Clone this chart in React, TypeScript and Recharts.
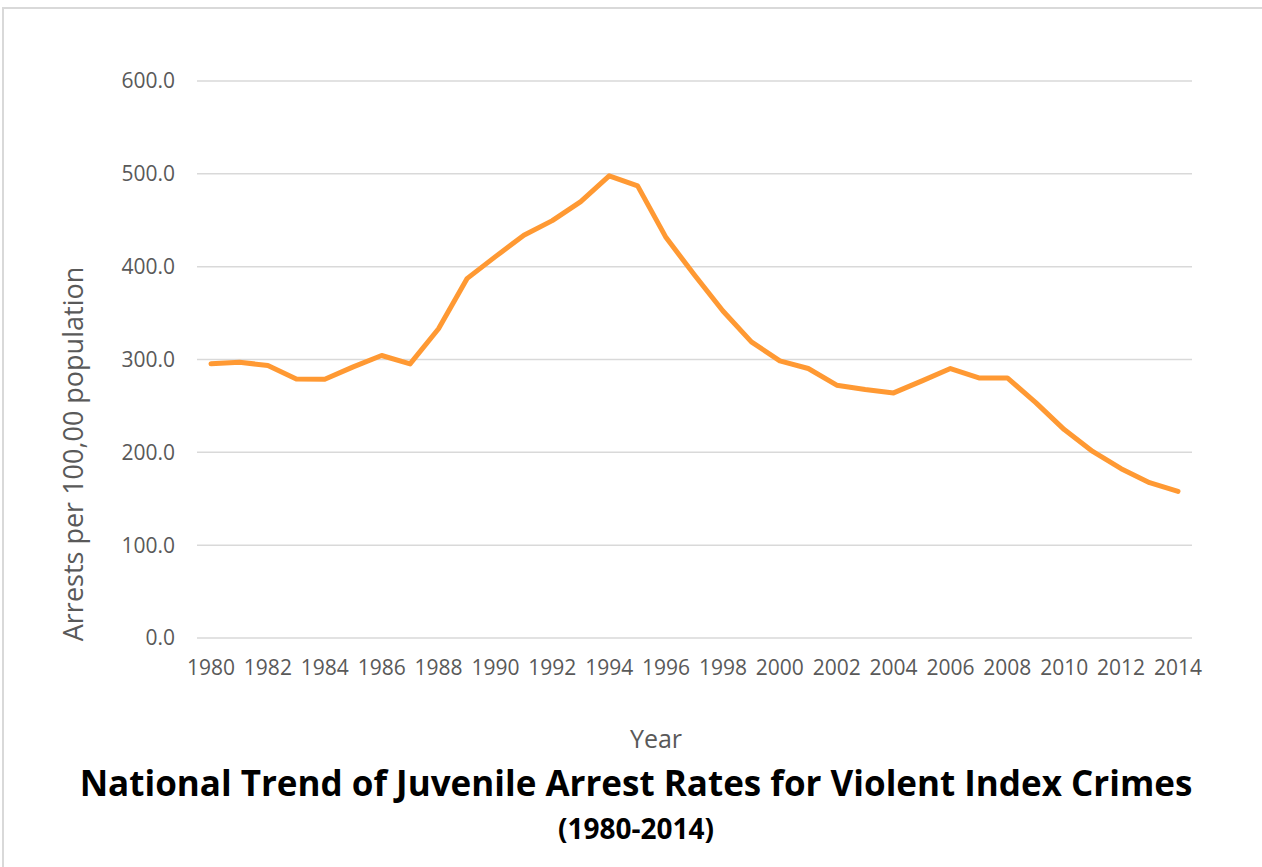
import { CartesianGrid, Line, LineChart, XAxis, YAxis } from "recharts";

// juvenile arrests for violent index crimes, per 100,000 population
const YEARS = [
  "1980", "1981", "1982", "1983", "1984", "1985", "1986", "1987", "1988",
  "1989", "1990", "1991", "1992", "1993", "1994", "1995", "1996", "1997",
  "1998", "1999", "2000", "2001", "2002", "2003", "2004", "2005", "2006",
  "2007", "2008", "2009", "2010", "2011", "2012", "2013", "2014",
];

const RATES = [
  295.3, 297.1, 293.5, 279.1, 278.8, 292.1, 304.3, 295.3, 333.1,
  387.1, 410.8, 433.8, 449.6, 470.1, 497.8, 487.0, 431.3, 391.0,
  352.2, 319.0, 298.6, 290.3, 272.3, 267.6, 264.0, 277.0, 290.3,
  280.2, 280.2, 253.6, 224.5, 201.0, 182.4, 167.3, 158.0,
];

const Y_TICKS = [0, 100, 200, 300, 400, 500, 600];

const rows = YEARS.map((year, i) => ({ year, rate: RATES[i] }));

const FONT = '"Open Sans", "Noto Sans", sans-serif';
const GREY = "#595959";
const ORANGE = "#FF9933";

export default function App() {
  return (
    <div
      style={{
        position: "absolute",
        left: 0,
        top: 0,
        width: 1262,
        height: 867,
        background: "#fff",
        overflow: "hidden",
        fontFamily: FONT,
      }}
    >
      {/* frame edge, only top and left fall inside the page */}
      <div
        style={{
          position: "absolute",
          left: 2,
          top: 7,
          right: 0,
          bottom: 0,
          borderTop: "2px solid #D9D9D9",
          borderLeft: "2px solid #D9D9D9",
        }}
      />

      <LineChart
        width={1262}
        height={700}
        data={rows}
        margin={{ top: 81, right: 70, bottom: 0, left: 0 }}
        style={{ position: "absolute", left: 0, top: 0 }}
      >
        <CartesianGrid stroke="#D9D9D9" strokeWidth={1.5} vertical={false} />
        <XAxis
          dataKey="year"
          interval={1}
          height={62}
          padding={{ left: 14, right: 14 }}
          axisLine={false}
          tickLine={false}
          tickSize={0}
          tickMargin={22}
          tick={{ fill: GREY, fontSize: 21, fontFamily: FONT }}
        />
        <YAxis
          width={197}
          domain={[0, 600]}
          ticks={Y_TICKS}
          tickFormatter={(v: number) => v.toFixed(1)}
          axisLine={false}
          tickLine={false}
          tickSize={0}
          tickMargin={22}
          tick={{ fill: GREY, fontSize: 21, fontFamily: FONT }}
        />
        <Line
          type="linear"
          dataKey="rate"
          stroke={ORANGE}
          strokeWidth={5}
          strokeLinecap="round"
          strokeLinejoin="round"
          dot={false}
          activeDot={false}
          isAnimationActive={false}
        />
      </LineChart>

      {/* axis titles */}
      <div
        style={{
          position: "absolute",
          left: 73 - 250,
          top: 454 - 14,
          width: 500,
          height: 28,
          lineHeight: "28px",
          fontSize: 27,
          color: GREY,
          textAlign: "center",
          transform: "rotate(-90deg)",
          whiteSpace: "nowrap",
        }}
      >
        Arrests per 100,00 population
      </div>
      <div
        style={{
          position: "absolute",
          left: 556,
          top: 726,
          width: 200,
          lineHeight: "25px",
          fontSize: 25,
          color: GREY,
          textAlign: "center",
        }}
      >
        Year
      </div>

      {/* chart title */}
      <div
        style={{
          position: "absolute",
          left: 0,
          top: 765,
          width: 1272,
          lineHeight: "35px",
          fontSize: 35,
          fontWeight: 700,
          color: "#000",
          textAlign: "center",
          whiteSpace: "nowrap",
        }}
      >
        National Trend of Juvenile Arrest Rates for Violent Index Crimes
      </div>
      <div
        style={{
          position: "absolute",
          left: 436,
          top: 814,
          width: 400,
          lineHeight: "28px",
          fontSize: 28,
          fontWeight: 700,
          color: "#000",
          textAlign: "center",
        }}
      >
        (1980-2014)
      </div>
    </div>
  );
}
